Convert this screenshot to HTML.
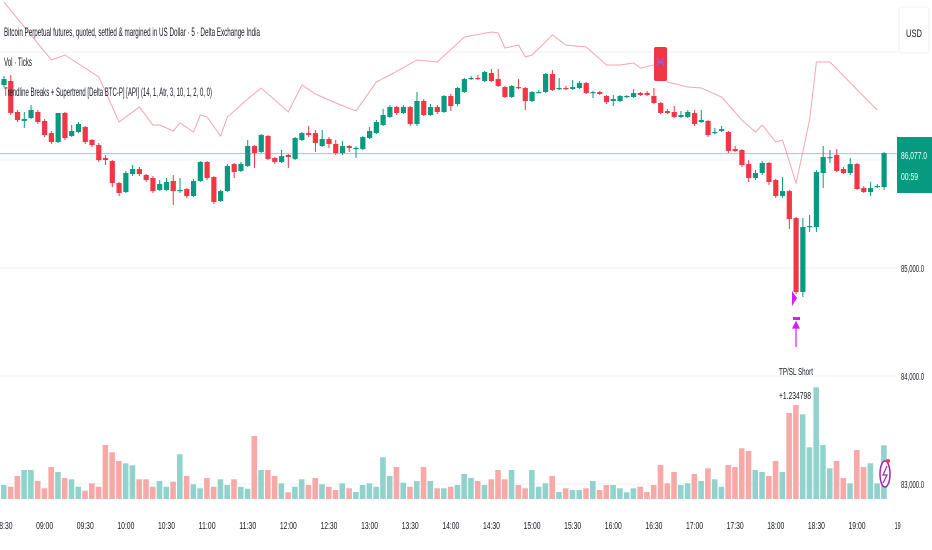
<!DOCTYPE html>
<html><head><meta charset="utf-8"><style>
html,body{margin:0;padding:0;background:#fff;width:932px;height:550px;overflow:hidden}
svg{display:block}
text{font-family:"Liberation Sans",sans-serif;fill:#131722}
</style></head><body>
<svg id="chart" width="932" height="550" viewBox="0 0 932 550" xmlns="http://www.w3.org/2000/svg">
<g id="grid"></g>
<g id="vols"></g>
<g id="ind"></g>
<g id="candles"></g>
<g id="ann"></g>
<g id="axis"></g>
<g id="taxis"></g>
<text x="4" y="36" font-size="12" textLength="256" lengthAdjust="spacingAndGlyphs">Bitcoin Perpetual futures, quoted, settled &amp; margined in US Dollar · 5 · Delta Exchange India</text>
<text x="4" y="66" font-size="12" textLength="28" lengthAdjust="spacingAndGlyphs">Vol · Ticks</text>
<text x="4" y="96" font-size="12" textLength="208" lengthAdjust="spacingAndGlyphs">Trendline Breaks + Supertrend [Delta BTC-P] [API] (14, 1, Atr, 3, 10, 1, 2, 0, 0)</text>
<rect x="899" y="7" width="30" height="46" rx="3" fill="#fff" stroke="#eef0f3"/>
<text x="906" y="37" font-size="11" textLength="16" lengthAdjust="spacingAndGlyphs">USD</text>
</svg>
<script>
const opens=[86713,86750,86463,86380,86407,86463,86380,86268,86185,86454,86241,86278,86324,86204,86157,86037,86009,85805,85722,85889,85935,85880,85852,85741,85741,85824,85741,85750,85685,85824,86000,85861,85639,85731,85981,85917,85963,86148,86093,86241,86037,86000,86065,86028,86204,86268,86268,86148,86213,86167,86083,86148,86130,86120,86222,86268,86343,86417,86509,86454,86509,86352,86565,86435,86509,86463,86611,86537,86648,86778,86778,86750,86824,86768,86694,86602,86694,86685,86565,86648,86648,86815,86676,86685,86676,86685,86731,86648,86648,86611,86565,86565,86602,86602,86639,86639,86611,86546,86472,86463,86417,86417,86454,86370,86380,86268,86287,86278,86120,86111,85981,85852,85898,85991,85833,85685,85731,85481,84796,85398,85398,85898,86037,86065,85935,85898,85981,85759,85722,85768,85768];
const highs=[86796,86806,86481,86463,86528,86481,86398,86287,86454,86463,86343,86370,86333,86213,86176,86065,86018,85815,85917,85972,85954,85889,85870,85833,85852,85880,85852,85759,85843,86009,86009,85870,85741,85981,85991,86000,86204,86157,86259,86250,86046,86111,86074,86231,86278,86333,86296,86296,86231,86204,86194,86157,86148,86241,86324,86389,86491,86528,86518,86528,86518,86648,86583,86537,86528,86620,86630,86694,86778,86796,86806,86843,86861,86861,86704,86713,86768,86694,86657,86667,86824,86852,86778,86704,86759,86750,86741,86657,86657,86620,86620,86620,86620,86676,86648,86657,86685,86555,86491,86518,86472,86481,86481,86481,86389,86315,86333,86287,86148,86120,86018,85926,86009,86000,85843,85861,85741,85491,85481,85509,85926,86148,86111,86120,85954,86037,85991,85778,85815,85796,86093];
const lows=[86694,86435,86370,86315,86398,86352,86231,86167,86176,86204,86231,86268,86167,86139,86000,85972,85768,85685,85713,85870,85870,85815,85713,85731,85731,85602,85713,85667,85676,85815,85833,85611,85630,85722,85852,85907,85954,85944,86083,86018,85981,85991,85944,86018,86194,86231,86093,86139,86130,86065,86065,86093,86037,86111,86213,86259,86333,86407,86435,86444,86333,86333,86426,86426,86444,86454,86472,86518,86639,86759,86759,86741,86741,86694,86593,86593,86676,86481,86555,86639,86639,86657,86667,86667,86667,86676,86630,86593,86620,86537,86518,86555,86593,86593,86611,86611,86537,86444,86444,86407,86407,86407,86333,86361,86231,86259,86278,86083,86093,85954,85815,85833,85880,85787,85667,85667,85379,84778,84750,85352,85352,85759,85991,85907,85889,85880,85741,85713,85685,85759,85741];
const closes=[86768,86454,86389,86398,86481,86370,86250,86185,86454,86222,86287,86352,86185,86157,86018,86018,85805,85713,85898,85935,85889,85833,85731,85796,85815,85731,85741,85685,85824,86000,85852,85630,85731,85963,85907,85981,86148,86083,86250,86028,86000,86055,86046,86222,86268,86250,86176,86213,86167,86083,86148,86130,86130,86231,86287,86370,86435,86509,86454,86509,86352,86565,86435,86509,86463,86611,86518,86685,86768,86778,86768,86833,86750,86704,86602,86704,86685,86565,86648,86648,86815,86667,86685,86676,86694,86731,86639,86648,86630,86555,86583,86611,86611,86639,86620,86620,86546,86454,86454,86417,86435,86463,86352,86389,86250,86278,86305,86102,86102,85972,85852,85898,85991,85815,85685,85731,85472,84796,85398,85407,85907,86046,86046,85917,85898,85981,85750,85722,85759,85778,86083];
const volumes=[140,123,230,290,290,180,107,320,270,210,197,123,83,157,123,540,467,380,357,337,197,197,123,180,123,173,447,230,147,107,210,123,197,140,197,123,103,630,290,290,230,157,67,123,197,140,210,147,123,90,157,107,70,140,157,123,417,230,320,163,123,180,320,180,107,107,123,140,250,210,180,140,197,290,197,290,140,107,290,123,157,230,70,107,90,90,107,180,90,140,140,107,67,107,123,70,140,340,157,270,140,157,250,180,307,197,123,340,320,507,480,290,270,230,380,270,860,940,847,517,1117,540,307,380,210,157,490,320,357,157,537];
const lineIdx=[0,7,9,14,17,20,22,23,25,26,28,29,30,32,33,36,38,42,44,46,49,52,55,57,61,64,68,72,73,74,76,77,78,81,83,86,89,91,93,94,96,98,101,103,106,109,111,112,114,115,117,119,120,122,129];
const lineVals=[87481,86944,86991,86787,86370,86509,86343,86343,86287,86361,86278,86435,86417,86241,86417,86583,86685,86463,86713,86630,86546,86472,86741,86806,86944,86926,87157,87204,87194,87056,87083,86972,86991,87176,87083,87065,86898,86898,86917,86870,86898,86741,86694,86685,86602,86389,86278,86343,86185,86204,85805,86389,86926,86926,86481];
const priceTicks=[87000,86000,85000,84000,83000];
const priceLabels=["","","85,000.0","84,000.0","83,000.0"];
const timeLabels=["08:30","09:00","09:30","10:00","10:30","11:00","11:30","12:00","12:30","13:00","13:30","14:00","14:30","15:00","15:30","16:00","16:30","17:00","17:30","18:00","18:30","19:00","19"];
const lastPrice=86077;

const NS="http://www.w3.org/2000/svg";
function xOf(i){return 4+i*6.77;}
function yOf(p){return 270-(p-85000)*0.108;}
function yV(v){return 499-v*0.1;}
function mk(tag,attrs,parent){const e=document.createElementNS(NS,tag);for(const k in attrs)e.setAttribute(k,attrs[k]);parent.appendChild(e);return e;}
const G=id=>document.getElementById(id);

priceTicks.forEach((p,k)=>{
  const l=mk('line',{x1:0,x2:897,y1:yOf(p)-2,y2:yOf(p)-2,stroke:'#eef0f4','stroke-width':1},G('grid'));
  
  
  if(priceLabels[k]){
    const t=mk('text',{x:901,y:yOf(p)+2,'font-size':10,textLength:23,lengthAdjust:'spacingAndGlyphs'},G('axis'));
    t.textContent=priceLabels[k];
    
    
  }
});

volumes.forEach((v,i)=>{
  const up=closes[i]>=opens[i];
  const r=mk('rect',{x:xOf(i)-3,y:yV(v),width:5.6,height:499-yV(v),fill:up?'#92d2cc':'#f7a9a7'},G('vols'));
  
  
});

let d='';
lineIdx.forEach((ix,k)=>{d+=(k?'L':'M')+xOf(ix).toFixed(1)+','+yOf(lineVals[k]).toFixed(1);});
const pl=mk('path',{d:d,fill:'none',stroke:'#f4a6b0','stroke-width':1},G('ind'));



// last price line
const lp=mk('line',{x1:0,x2:897,y1:yOf(lastPrice),y2:yOf(lastPrice),stroke:'#8fd0c4','stroke-width':1},G('grid'));



opens.forEach((o,i)=>{
  const c=closes[i],up=c>=o,col=up?'#089981':'#f23645',x=xOf(i);
  const w=mk('line',{x1:x,x2:x,y1:yOf(highs[i]),y2:yOf(lows[i]),stroke:col,'stroke-width':1},G('candles'));
  
  
  const top=yOf(Math.max(o,c)),h=Math.max(1.2,Math.abs(yOf(o)-yOf(c)));
  const b=mk('rect',{x:x-2.6,y:top,width:5.2,height:h,fill:col},G('candles'));
  
  
});

// annotations
const A=G('ann');
const sig=mk('rect',{x:654,y:47,width:13,height:34,rx:2,fill:'#f23645'},A);


const sigt=mk('path',{d:'M657,58 L664,66 M664,58 L657,66 M657,62 L664,62',stroke:'#7b6cd8','stroke-width':1.2,fill:'none'},A);


const tri=mk('path',{d:'M792,291 L797,298 L792,306 Z',fill:'#d81bfa'},A);


const mb=mk('rect',{x:793,y:317,width:7,height:3,fill:'#d81bfa'},A);


const ar=mk('path',{d:'M796,322 L793,328 L799,328 Z M796,326 L796,347',fill:'#d81bfa',stroke:'#d81bfa','stroke-width':1.2},A);


const t1=mk('text',{x:779,y:375,'font-size':10,textLength:34,lengthAdjust:'spacingAndGlyphs'},A);
t1.textContent='TP/SL Short';


const t2=mk('text',{x:779,y:399,'font-size':10,textLength:32,lengthAdjust:'spacingAndGlyphs'},A);
t2.textContent='+1.234798';


const ic=mk('ellipse',{cx:885,cy:474,rx:5,ry:13,fill:'#fff',stroke:'#9c27b0','stroke-width':1.5},A);


const bolt=mk('path',{d:'M887,466 L883,475 L887,475 L883,483',stroke:'#9c27b0','stroke-width':1.2,fill:'none'},A);


const dot=mk('circle',{cx:888,cy:461,r:2,fill:'#f23645'},A);



// last price box
const lb=mk('rect',{x:897,y:137,width:35,height:56,fill:'#089981'},G('axis'));


const lt=mk('text',{x:901,y:159,'font-size':10,textLength:26,lengthAdjust:'spacingAndGlyphs',style:'fill:#fff'},G('axis'));
lt.textContent='86,077.0';


const ct=mk('text',{x:901,y:180,'font-size':10,textLength:17,lengthAdjust:'spacingAndGlyphs',style:'fill:#fff'},G('axis'));
ct.textContent='00:59';



timeLabels.forEach((s,k)=>{
  const t=mk('text',{x:xOf(k*6),y:529,'font-size':10,'text-anchor':'middle',textLength:s.length>2?17:6,lengthAdjust:'spacingAndGlyphs'},G('taxis'));
  t.textContent=s;
  
  
});
</script>
</body></html>
